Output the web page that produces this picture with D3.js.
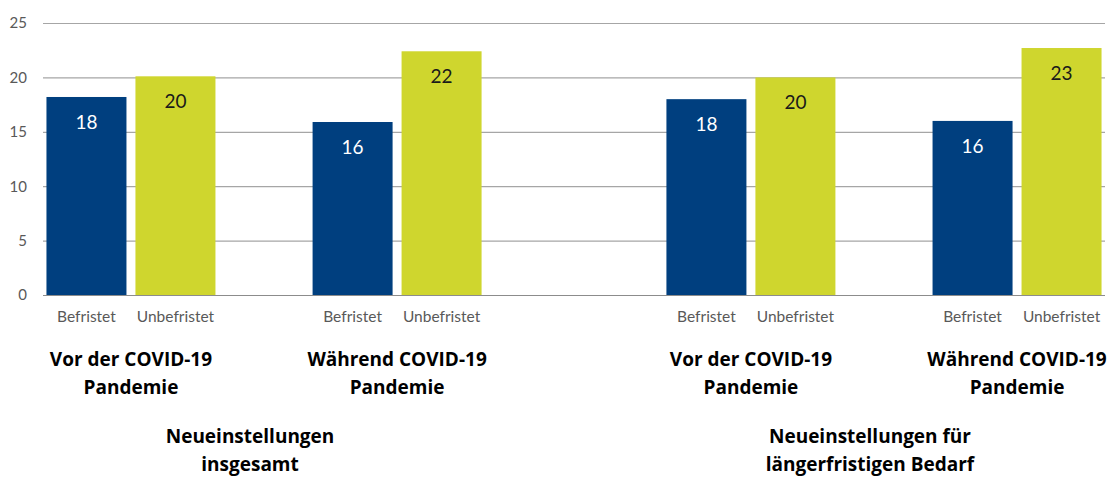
<!DOCTYPE html>
<html>
<head>
<meta charset="utf-8">
<script src="https://cdn.jsdelivr.net/npm/d3@7"></script>
<style>
    body { margin: 0; background: #fff; }
    text { font-family: "Source Sans Pro", Lato, sans-serif; }
    .bold { font-family: "Source Sans Pro", "Open Sans", sans-serif; font-weight: bold; }
</style>
</head>
<body>
<div id="chart"></div>
<script>
// Data
var groups = ["insgesamt", "laengerfristig"];
var groupLabels = [["Neueinstellungen", "insgesamt"], ["Neueinstellungen für", "längerfristigen Bedarf"]];
var periods = ["vor", "waehrend"];
var periodLabels = [["Vor der COVID-19", "Pandemie"], ["Während COVID-19", "Pandemie"]];
var types = ["Befristet", "Unbefristet"];
var befristet = [18.2, 15.9, 18.0, 16.0];
var unbefristet = [20.1, 22.4, 20.0, 22.7];
var yTicks = [0, 5, 10, 15, 20, 25];

// Basic size information
var margin = {top: 23, right: 5, bottom: 182, left: 43},
    width = 1110 - margin.left - margin.right,
    height = 477 - margin.top - margin.bottom;

var colors = {Befristet: "#003f7f", Unbefristet: "#cfd62e"};
var labelColors = {Befristet: "#ffffff", Unbefristet: "#1a1a1a"};

// Build flat list of bars
var bars = [];
groups.forEach(function(g, gi) {
    periods.forEach(function(p, pi) {
        var k = gi * 2 + pi;
        bars.push({group: g, period: p, type: "Befristet", value: befristet[k]});
        bars.push({group: g, period: p, type: "Unbefristet", value: unbefristet[k]});
    });
});

// Scales: outer group > period > type
var x0 = d3.scaleBand().domain(groups).range([0, width]).paddingInner(0.287).paddingOuter(0);
var x1 = d3.scaleBand().domain(periods).range([0, x0.bandwidth()]).paddingInner(0.365).paddingOuter(0.013);
var x2 = d3.scaleBand().domain(types).range([0, x1.bandwidth()]).paddingInner(0.101).paddingOuter(0);
var y = d3.scaleLinear().domain([0, 25]).range([height, 0]);

var svg = d3.select("#chart")
    .append("svg")
        .attr("width", 1110)
        .attr("height", 477)
    .append("g")
        .attr("transform", "translate(" + margin.left + "," + margin.top + ")");

// Gridlines + y labels
var yAxis = svg.append("g")
    .call(d3.axisLeft(y).tickValues(yTicks).tickSize(-width).tickPadding(16));
yAxis.select(".domain").remove();
yAxis.selectAll(".tick line")
    .attr("stroke", function(d) { return d === 0 ? "#8c8c8c" : "#a6a6a6"; })
    .attr("stroke-width", 1.2);
yAxis.selectAll(".tick text")
    .attr("fill", "#595959")
    .style("font-size", "15px")
    .style("font-family", "\"Source Sans Pro\", Lato, sans-serif");

function barX(d) { return x0(d.group) + x1(d.period) + x2(d.type); }

// Bars
svg.selectAll(".bar")
    .data(bars)
    .enter().append("rect")
    .attr("class", "bar")
    .attr("x", barX)
    .attr("y", function(d) { return y(d.value); })
    .attr("width", x2.bandwidth())
    .attr("height", function(d) { return height - y(d.value); })
    .attr("fill", function(d) { return colors[d.type]; });

// Value labels
svg.selectAll(".val")
    .data(bars)
    .enter().append("text")
    .attr("x", function(d) { return barX(d) + x2.bandwidth() / 2; })
    .attr("y", function(d) { return y(d.value) + 32; })
    .attr("text-anchor", "middle")
    .attr("fill", function(d) { return labelColors[d.type]; })
    .style("font-size", "19px")
    .text(function(d) { return d3.format(".0f")(d.value); });

// Category labels (Befristet / Unbefristet)
svg.selectAll(".cat")
    .data(bars)
    .enter().append("text")
    .attr("x", function(d) { return barX(d) + x2.bandwidth() / 2; })
    .attr("y", height + 27)
    .attr("text-anchor", "middle")
    .attr("fill", "#595959")
    .style("font-size", "15.5px")
    .text(function(d) { return d.type; });

// Period labels
groups.forEach(function(g) {
    periods.forEach(function(p, pi) {
        var cx = x0(g) + x1(p) + x1.bandwidth() / 2;
        periodLabels[pi].forEach(function(line, li) {
            svg.append("text")
                .attr("class", "bold")
                .attr("x", cx)
                .attr("y", height + 71 + li * 28)
                .attr("text-anchor", "middle")
                .attr("fill", "#000")
                .style("font-size", "19px")
                .text(line);
        });
    });
});

// Group labels
groups.forEach(function(g, gi) {
    var cx = x0(g) + x0.bandwidth() / 2 - 14;
    groupLabels[gi].forEach(function(line, li) {
        svg.append("text")
            .attr("class", "bold")
            .attr("x", cx)
            .attr("y", height + 148 + li * 28)
            .attr("text-anchor", "middle")
            .attr("fill", "#000")
            .style("font-size", "19px")
            .text(line);
    });
});
</script>
</body>
</html>
